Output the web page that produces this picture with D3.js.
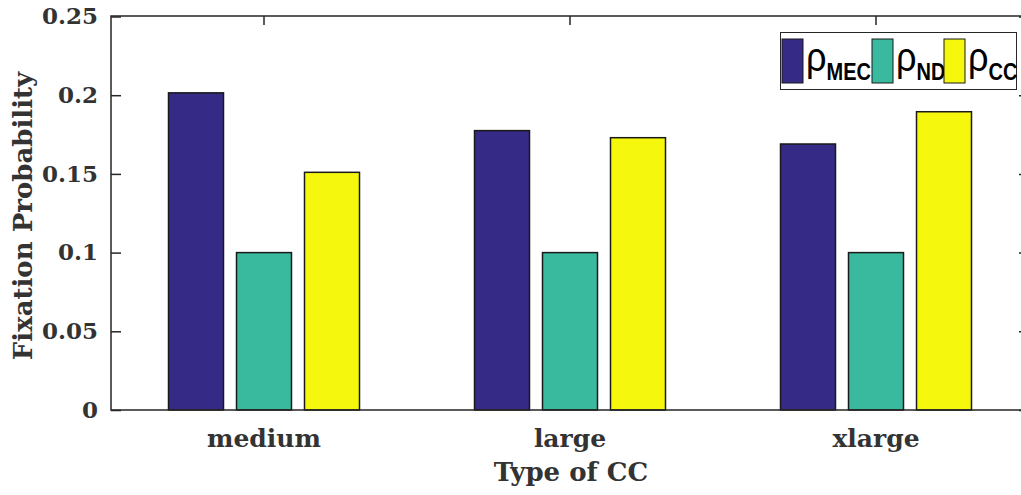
<!DOCTYPE html>
<html>
<head>
<meta charset="utf-8">
<script src="https://cdn.jsdelivr.net/npm/d3@7"></script>
<style>
  body { margin: 0; background: #fff; }
  svg { display: block; }
</style>
</head>
<body>
<script>
/* chart data */
var categories = ["medium", "large", "xlarge"];
var seriesNames = ["MEC", "ND", "CC"];
var seriesColors = ["#352a86", "#39b99d", "#f5f70c"];
var mecValues = [0.2015, 0.1775, 0.1690];
var ndValues = [0.1000, 0.1000, 0.1000];
var ccValues = [0.1510, 0.1730, 0.1895];
var yTicks = [0, 0.05, 0.1, 0.15, 0.2, 0.25];
var yTickLabels = ["0", "0.05", "0.1", "0.15", "0.2", "0.25"];

var width = 1021,
    height = 495;

var axisColor = "#262626";
var serif = "'DejaVu Serif', serif";

var svg = d3.select("body").append("svg")
    .attr("width", width)
    .attr("height", height);

/* plot box (right side runs past the window, as in the picture) */
var boxL = 111, boxR = 1029, boxT = 16, boxB = 410;

var x = d3.scaleBand()
    .domain(categories)
    .range([boxL, boxR])
    .paddingInner(0)
    .paddingOuter(0);

var xInner = d3.scaleBand()
    .domain(seriesNames)
    .range([-102, 102])
    .paddingInner(13 / 68)
    .paddingOuter(13 / 136);

var y = d3.scaleLinear()
    .domain([0, 0.25])
    .range([boxB, boxT + 0.5]);

/* build rows from the arrays */
var rows = categories.map(function(c, i) {
    return {
        cat: c,
        vals: [mecValues[i], ndValues[i], ccValues[i]]
    };
});

/* bars */
var groups = svg.append("g").selectAll("g")
    .data(rows)
    .enter()
    .append("g")
    .attr("transform", function(d) { return "translate(" + (x(d.cat) + x.bandwidth() / 2) + ",0)"; });

groups.selectAll("rect")
    .data(function(d) { return d.vals.map(function(v, j) { return { s: seriesNames[j], v: v, c: seriesColors[j] }; }); })
    .enter()
    .append("rect")
    .attr("x", function(d) { return xInner(d.s); })
    .attr("width", xInner.bandwidth())
    .attr("y", function(d) { return y(d.v); })
    .attr("height", function(d) { return y(0) - y(d.v); })
    .attr("fill", function(d) { return d.c; })
    .attr("stroke", "#1a1a1a")
    .attr("stroke-width", 1.5);

/* left axis, ticks pointing inward */
var yAxis = d3.axisLeft(y)
    .tickValues(yTicks)
    .tickSizeInner(-10)
    .tickSizeOuter(0)
    .tickPadding(13)
    .tickFormat(function(d, i) { return yTickLabels[i]; });

var gy = svg.append("g")
    .attr("transform", "translate(" + boxL + ",0)")
    .call(yAxis);
gy.select(".domain").remove();
gy.selectAll(".tick line").attr("stroke", axisColor).attr("stroke-width", 1.5);
gy.selectAll(".tick text")
    .attr("fill", "#333")
    .style("font-family", serif)
    .style("font-weight", "bold")
    .style("font-size", "23px");

/* right axis mirror ticks */
var gyr = svg.append("g")
    .attr("transform", "translate(" + boxR + ",0)")
    .call(d3.axisRight(y).tickValues(yTicks).tickSizeInner(-10).tickSizeOuter(0).tickFormat(""));
gyr.select(".domain").remove();
gyr.selectAll(".tick line").attr("stroke", axisColor).attr("stroke-width", 1.5);

/* bottom axis labels */
var gx = svg.append("g")
    .attr("transform", "translate(0," + boxB + ")")
    .call(d3.axisBottom(x).tickSize(0).tickPadding(19));
gx.select(".domain").remove();
gx.selectAll(".tick text")
    .attr("fill", "#333")
    .style("font-family", serif)
    .style("font-weight", "bold")
    .style("font-size", "25px");

/* top axis ticks pointing down */
var gxt = svg.append("g")
    .attr("transform", "translate(0," + boxT + ")")
    .call(d3.axisTop(x).tickSizeInner(-9).tickSizeOuter(0).tickFormat(""));
gxt.select(".domain").remove();
gxt.selectAll(".tick line").attr("stroke", axisColor).attr("stroke-width", 1.5);

/* box lines */
svg.append("path")
    .attr("d", "M" + boxR + "," + boxT + "H" + boxL + "V" + boxB + "H" + boxR)
    .attr("fill", "none")
    .attr("stroke", axisColor)
    .attr("stroke-width", 1.5);

/* axis titles */
svg.append("text")
    .attr("x", (boxL + 1021) / 2 + 5)
    .attr("y", 481)
    .attr("text-anchor", "middle")
    .attr("fill", "#333")
    .style("font-family", serif)
    .style("font-weight", "bold")
    .style("font-size", "26px")
    .text("Type of CC");

svg.append("text")
    .attr("transform", "translate(32," + ((boxT + boxB) / 2 + 3) + ") rotate(-90)")
    .attr("text-anchor", "middle")
    .attr("fill", "#333")
    .style("font-family", serif)
    .style("font-weight", "bold")
    .style("font-size", "26px")
    .text("Fixation Probability");

/* legend */
var legend = svg.append("g");
legend.append("rect")
    .attr("x", 780.5).attr("y", 32.5)
    .attr("width", 236).attr("height", 57)
    .attr("fill", "#fff")
    .attr("stroke", axisColor)
    .attr("stroke-width", 1);

var swatchX = [782, 872, 944];
seriesNames.forEach(function(s, i) {
    legend.append("rect")
        .attr("x", swatchX[i]).attr("y", 39)
        .attr("width", 21).attr("height", 44)
        .attr("fill", seriesColors[i])
        .attr("stroke", "#1a1a1a")
        .attr("stroke-width", 1);
    var t = legend.append("text")
        .attr("transform", "translate(" + (swatchX[i] + 24) + ",71) scale(1,1.15)")
        .attr("fill", "#000")
        .style("font-family", "'Liberation Sans', Arial, sans-serif");
    t.append("tspan")
        .style("font-size", "36px")
        .text("\u03c1");
    t.append("tspan")
        .attr("dy", 7.5)
        .style("font-size", "20px")
        .style("font-weight", "bold")
        .text(s);
});
</script>
</body>
</html>
